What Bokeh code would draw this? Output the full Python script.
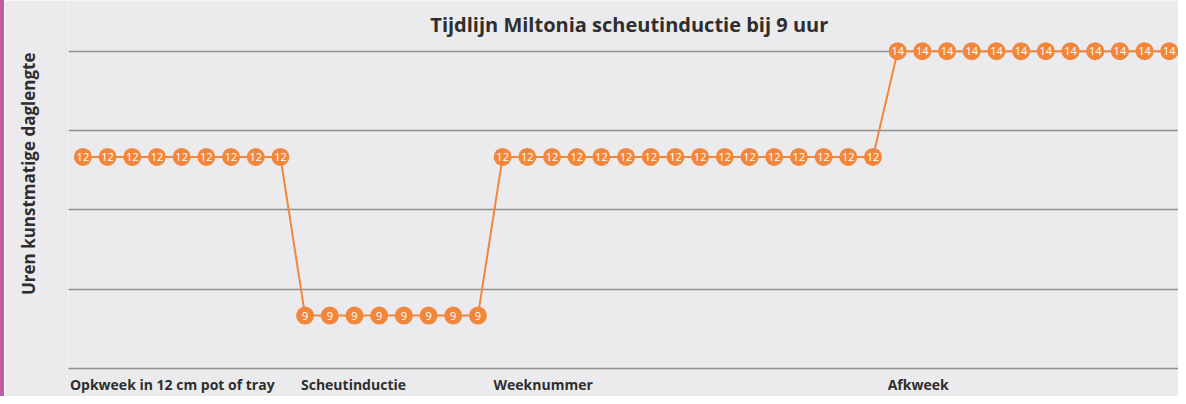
from bokeh.plotting import figure
from bokeh.models import Range1d, FixedTicker, Title, Label, ColumnDataSource, CDSView, IndexFilter
from bokeh.core.properties import value
from bokeh.embed import file_html
from bokeh.resources import INLINE

# ---- data ----
hours = [12, 12, 12, 12, 12, 12, 12, 12, 12,
         9, 9, 9, 9, 9, 9, 9, 9,
         12, 12, 12, 12, 12, 12, 12, 12, 12, 12, 12, 12, 12, 12, 12, 12,
         14, 14, 14, 14, 14, 14, 14, 14, 14, 14, 14, 14, 14]
weeks = list(range(len(hours)))
point_labels = [str(h) for h in hours]

phase_labels = ["Opkweek in 12 cm pot of tray", "Scheutinductie", "Weeknummer", "Afkweek"]
phase_centers = [3.62, 10.96, 18.64, 33.83]
grid_ticks = [9.5, 11, 12.5, 14]

title_text = "Tijdlijn Miltonia scheutinductie bij 9 uur"
ylabel_text = "Uren kunstmatige daglengte"

ORANGE = "#f2873c"
BG = "#ebebed"
GRID = "#8e8e8e"
TXT = "#2e2e2e"
PINK = "#c25ba5"

# ---- layout ----
W, H = 1178, 396
LEFT, RIGHT, BOTTOM = 64, 4, 26
frame_w = W - LEFT - RIGHT
frame_h = H - BOTTOM
top_grid_px = 51
ppu = (frame_h - top_grid_px) / 6.0
X0, X1 = -0.583, 44.374
Y0, Y1 = 8, 14 + top_grid_px / ppu

src = ColumnDataSource(dict(x=weeks, y=hours, t=point_labels))
visible_idx = [i for i, w in enumerate(weeks) if w <= X1]

p = figure(width=W, height=H,
           x_range=Range1d(X0, X1), y_range=Range1d(Y0, Y1),
           output_backend="svg", toolbar_location=None,
           min_border_left=LEFT, min_border_right=RIGHT, min_border_top=0, min_border_bottom=BOTTOM,
           background_fill_color=BG, border_fill_color=BG, outline_line_color=None)
p.styles = {"border-left": f"4px solid {PINK}"}

p.yaxis.visible = False
p.xgrid.visible = False
p.ygrid.ticker = FixedTicker(ticks=grid_ticks)
p.ygrid.grid_line_color = GRID
p.ygrid.grid_line_width = 1.5

ax = p.xaxis[0]
ax.ticker = FixedTicker(ticks=phase_centers)
ax.major_label_overrides = dict(zip(phase_centers, phase_labels))
ax.major_tick_line_color = None
ax.minor_tick_line_color = None
ax.major_tick_out = 0
ax.major_tick_in = 0
ax.axis_line_color = GRID
ax.axis_line_width = 1.5
ax.major_label_text_font = "Open Sans"
ax.major_label_text_font_style = "bold"
ax.major_label_text_font_size = "14px"
ax.major_label_text_color = TXT
ax.major_label_standoff = 6

p.line("x", "y", source=src, line_color=ORANGE, line_width=2)
p.scatter("x", "y", source=src, size=18, fill_color=ORANGE, line_color=None)
p.text("x", "y", text="t", source=src, view=CDSView(filter=IndexFilter(visible_idx)),
       text_align="center", text_baseline="middle",
       text_color="white", text_font=value("Open Sans"), text_font_size="11px")

p.add_layout(Label(x=22.13, y=Y1 - 24 / ppu, text=title_text, text_align="center",
                   text_baseline="middle", text_font="Open Sans", text_font_style="bold",
                   text_font_size="20px", text_color=TXT))

# spacer (nearest the frame), then the y-axis title further out
p.add_layout(Title(text=" ", standoff=0, text_font="Open Sans", text_font_size="19px"), "left")
p.add_layout(Title(text=ylabel_text, align="right", offset=52, vertical_align="middle",
                   standoff=0, text_font="Open Sans", text_font_style="bold",
                   text_font_size="17px", text_color=TXT), "left")

open("out.html", "w").write(file_html(p, INLINE))
